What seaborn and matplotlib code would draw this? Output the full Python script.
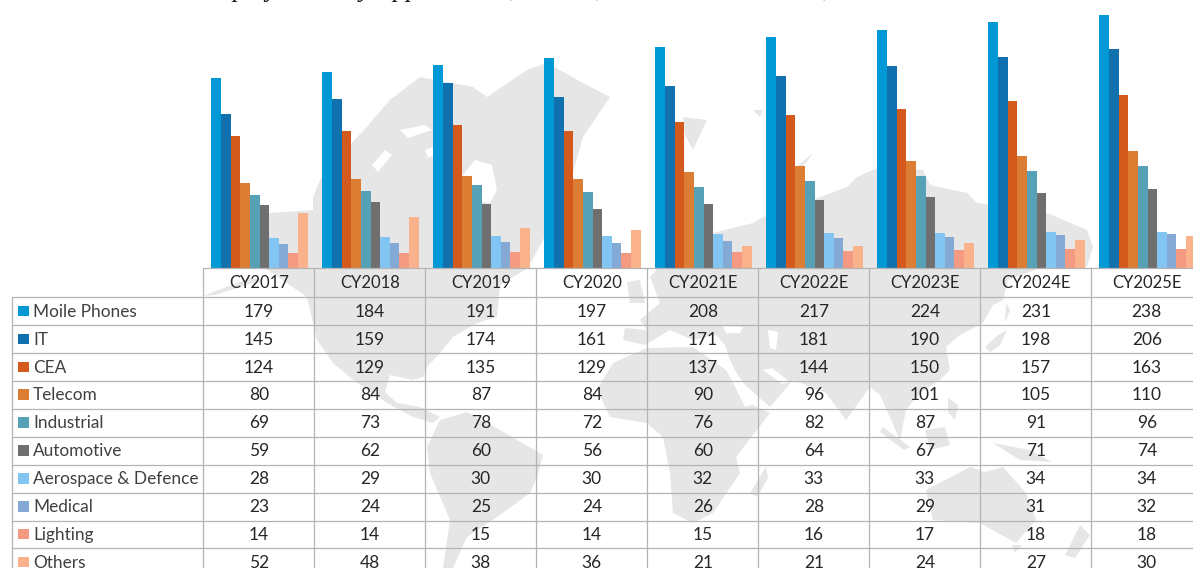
"""EMS market breakup by industry application: grouped bars over a data table,
with a light world map behind them."""

import matplotlib.pyplot as plt
import pandas as pd
import seaborn as sns
from matplotlib.patches import Polygon, Rectangle

years = ["CY2017", "CY2018", "CY2019", "CY2020", "CY2021E", "CY2022E", "CY2023E", "CY2024E", "CY2025E"]
segments = ["Moile Phones", "IT", "CEA", "Telecom", "Industrial", "Automotive",
            "Aerospace & Defence", "Medical", "Lighting", "Others"]

mobile = [179, 184, 191, 197, 208, 217, 224, 231, 238]
it = [145, 159, 174, 161, 171, 181, 190, 198, 206]
cea = [124, 129, 135, 129, 137, 144, 150, 157, 163]
telecom = [80, 84, 87, 84, 90, 96, 101, 105, 110]
industrial = [69, 73, 78, 72, 76, 82, 87, 91, 96]
automotive = [59, 62, 60, 56, 60, 64, 67, 71, 74]
aerospace = [28, 29, 30, 30, 32, 33, 33, 34, 34]
medical = [23, 24, 25, 24, 26, 28, 29, 31, 32]
lighting = [14, 14, 15, 14, 15, 16, 17, 18, 18]
others = [52, 48, 38, 36, 21, 21, 24, 27, 30]

series = [mobile, it, cea, telecom, industrial, automotive, aerospace, medical, lighting, others]
colors = ["#0099D5", "#1170AE", "#D4591C", "#DB7D33", "#56A1B6",
          "#6F6F6F", "#82C4F2", "#84A9D4", "#F59A82", "#F9B28C"]

title = "EMS Market breakup by Industry Applications, Global, Value in US$ Billion, CY2017-CY2025E"

# backdrop map, rough outlines in picture pixels
land = [
    [(211, 240), (240, 222), (270, 213), (313, 210), (313, 197), (320, 180), (345, 150), (364, 130),
     (390, 100), (420, 77), (473, 87), (487, 97), (527, 70), (547, 63), (583, 83), (610, 97),
     (583, 137), (570, 183), (543, 240), (528, 268), (500, 285), (497, 317), (477, 323), (453, 337),
     (440, 353), (427, 367), (423, 377), (413, 380), (390, 375), (385, 392), (397, 403), (420, 407),
     (440, 417), (433, 423), (413, 417), (387, 403), (357, 383), (333, 363), (317, 340), (307, 297),
     (265, 268), (211, 262)],
    [(203, 296), (250, 278), (262, 280), (215, 295)],
    [(427, 447), (440, 420), (467, 412), (500, 430), (543, 455), (537, 477), (530, 493), (500, 515),
     (467, 537), (453, 568), (443, 568), (450, 520), (430, 473)],
    [(597, 390), (613, 363), (647, 348), (693, 347), (726, 370), (743, 400), (770, 413), (736, 457),
     (740, 473), (713, 513), (693, 523), (673, 513), (670, 473), (663, 437), (647, 423), (610, 417)],
    [(750, 493), (766, 467), (768, 478), (757, 497)],
    [(650, 277), (680, 245), (700, 207), (713, 233), (753, 223), (763, 217), (813, 200), (847, 187),
     (857, 177), (880, 167), (923, 170), (930, 185), (967, 193), (977, 203), (1047, 213), (1087, 230),
     (1093, 247), (1087, 267), (1040, 268), (1008, 280), (1003, 300), (993, 305), (983, 323), (960, 335),
     (946, 347), (950, 370), (940, 380), (920, 393), (906, 410), (900, 440), (880, 395), (870, 387),
     (846, 420), (826, 393), (793, 380), (770, 407), (745, 385), (732, 367), (725, 345), (716, 335),
     (693, 340), (670, 330), (645, 345), (623, 340), (625, 328), (647, 330), (640, 320), (660, 303)],
    [(627, 282), (640, 280), (645, 303), (630, 303)],
    [(683, 117), (707, 120), (693, 150), (685, 135)],
    [(753, 110), (763, 110), (760, 117)],
    [(793, 170), (813, 153), (808, 160), (798, 172)],
    [(883, 427), (910, 447), (904, 450), (880, 432)],
    [(925, 430), (945, 427), (950, 445), (930, 450)],
    [(993, 443), (1030, 450), (1052, 462), (1020, 460)],
    [(948, 398), (958, 405), (955, 420), (948, 412)],
    [(926, 490), (970, 467), (985, 472), (1003, 467), (1026, 493), (1036, 520), (1016, 543),
     (980, 523), (933, 520)],
    [(1007, 330), (1000, 345), (990, 352), (985, 347), (998, 335)],
    [(1006, 303), (1010, 310), (1005, 323)],
    [(1012, 545), (1022, 545), (1015, 553)],
    [(1080, 525), (1090, 535), (1075, 558), (1065, 555)],
]
holes = [
    [(463, 175), (475, 160), (492, 165), (497, 190), (490, 203), (470, 200)],
    [(400, 130), (425, 125), (432, 130), (408, 138)],
    [(372, 165), (385, 150), (392, 155), (378, 172)],
    [(425, 150), (445, 142), (440, 152), (428, 158)],
    [(768, 330), (778, 332), (776, 350), (770, 348)],
    [(723, 326), (743, 327), (740, 333), (726, 333)],
    [(722, 360), (730, 360), (752, 405), (745, 407)],
    [(763, 370), (772, 368), (790, 382), (782, 384)],
]

W, H = 1193, 568
LEFT, COL_W = 203.3, 111
TOP_TABLE, HEAD_H, ROW_H = 268.3, 29, 27.9
LINE = "#B4B4B4"

sns.set_theme(style="white")
plt.rcParams["font.family"] = ["Lato", "DejaVu Sans"]

df = pd.DataFrame({"Year": years, **dict(zip(segments, series))}).melt(
    id_vars="Year", var_name="Segment", value_name="Value")

fig = plt.figure(figsize=(W / 100, H / 100), dpi=100, facecolor="white")

# map at the back
bg = fig.add_axes([0, 0, 1, 1], zorder=0)
bg.set_xlim(0, W)
bg.set_ylim(H, 0)
bg.axis("off")
for shape in land:
    bg.add_patch(Polygon(shape, closed=True, fc="#E6E6E6", ec="none"))
for shape in holes:
    bg.add_patch(Polygon(shape, closed=True, fc="white", ec="none"))

# bars, the axes runs past the right edge like in the cropped original
ax = fig.add_axes([204 / W, 1 - TOP_TABLE / H, COL_W * len(years) / W, TOP_TABLE / H], zorder=1)
ax.patch.set_visible(False)
sns.barplot(data=df, x="Year", y="Value", hue="Segment", palette=colors, width=0.87, gap=0,
            saturation=1, legend=False, linewidth=0, ax=ax)
ax.set_xlim(-0.5, len(years) - 0.5)
ax.set_ylim(0, TOP_TABLE / 1.065)
ax.axis("off")

# table on top
tb = fig.add_axes([0, 0, 1, 1], zorder=2)
tb.patch.set_visible(False)
tb.set_xlim(0, W)
tb.set_ylim(H, 0)
tb.axis("off")

first_row = TOP_TABLE + HEAD_H
tb.plot([LEFT, W], [TOP_TABLE, TOP_TABLE], color=LINE, lw=0.9)
for i in range(len(segments)):
    y = first_row + i * ROW_H
    tb.plot([12, W], [y, y], color=LINE, lw=0.9)
    mid = y + ROW_H / 2
    tb.add_patch(Rectangle((18, mid - 5.5), 10.5, 10.5, fc=colors[i], ec="none"))
    tb.text(33, mid + 0.5, segments[i], ha="left", va="center", fontsize=12.4, color="#404040")
    for j, vals in enumerate(zip(*series)):
        tb.text(LEFT + (j + 0.5) * COL_W, mid + 0.5, vals[i], ha="center", va="center",
                fontsize=12.5, color="#262626")
tb.plot([12, 12], [first_row, H], color=LINE, lw=0.9)
for j in range(len(years) + 1):
    x = LEFT + j * COL_W
    tb.plot([x, x], [TOP_TABLE, H], color=LINE, lw=0.9)
for j, year in enumerate(years):
    tb.text(LEFT + (j + 0.5) * COL_W, TOP_TABLE + HEAD_H / 2 + 0.5, year, ha="center", va="center",
            fontsize=12, color="#262626")

tb.text(22, -2.5, title, ha="left", va="baseline", fontsize=18.8, style="italic",
        family="Liberation Serif", color="#111111")

fig.savefig("out.png", dpi=100)
